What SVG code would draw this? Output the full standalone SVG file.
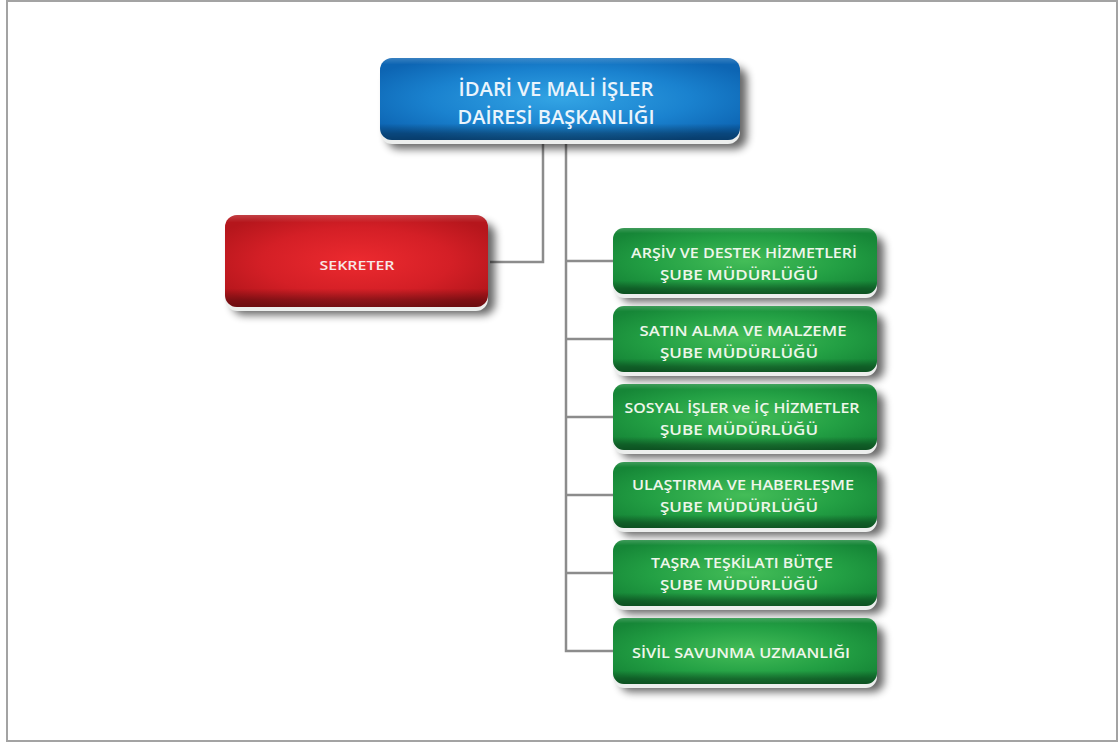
<svg xmlns="http://www.w3.org/2000/svg" width="1120" height="744" viewBox="0 0 1120 744">
  <style>
    .lbl { font-family: "Open Sans", "Liberation Sans", sans-serif; font-weight: 600; text-anchor: middle; }
    .g-txt { font-size: 14px; fill: #eef6ea; }
    .b-txt { font-size: 20px; fill: #eaf4fc; }
    .r-txt { font-size: 13px; fill: #f8e6e6; }
    .conn { fill: none; stroke: #8c8c8c; stroke-width: 2.5; }
    .rim { fill: #eceeed; }
    .shadow { fill: #000; opacity: 0.6; filter: url(#soft); }
    .band { fill: url(#bandGrad); }
  </style>
  <defs>
    <filter id="soft" x="-20%" y="-30%" width="140%" height="160%">
      <feGaussianBlur stdDeviation="4.5"/>
    </filter>
    <radialGradient id="greenBody" cx="0.5" cy="0.5" r="0.6">
      <stop offset="0" stop-color="#44bd58"/>
      <stop offset="0.6" stop-color="#23a044"/>
      <stop offset="1" stop-color="#168637"/>
    </radialGradient>
    <radialGradient id="blueBody" cx="0.5" cy="0.5" r="0.6">
      <stop offset="0" stop-color="#33a4e4"/>
      <stop offset="0.6" stop-color="#1a82cf"/>
      <stop offset="1" stop-color="#0d65b3"/>
    </radialGradient>
    <radialGradient id="redBody" cx="0.5" cy="0.5" r="0.6">
      <stop offset="0" stop-color="#ec2a2f"/>
      <stop offset="0.6" stop-color="#d41f26"/>
      <stop offset="1" stop-color="#b5161c"/>
    </radialGradient>
    <!-- top highlight and dark lower band shared by all boxes -->
    <linearGradient id="bandGrad" x1="0" y1="0" x2="0" y2="1">
      <stop offset="0" stop-color="#ffffff" stop-opacity="0.18"/>
      <stop offset="0.08" stop-color="#ffffff" stop-opacity="0"/>
      <stop offset="0.8" stop-color="#000000" stop-opacity="0"/>
      <stop offset="0.92" stop-color="#000000" stop-opacity="0.3"/>
      <stop offset="1" stop-color="#000000" stop-opacity="0.4"/>
    </linearGradient>
  </defs>

  <!-- page frame -->
  <rect x="7" y="1" width="1110" height="740" fill="#ffffff" stroke="#a3a3a3" stroke-width="2"/>

  <!-- connectors -->
  <g id="connectors">
    <path class="conn" d="M543 143 V262 H490"/>
    <path class="conn" d="M566 143 V651 H613"/>
    <path class="conn" d="M566 261 H613"/>
    <path class="conn" d="M566 339 H613"/>
    <path class="conn" d="M566 417 H613"/>
    <path class="conn" d="M566 495 H613"/>
    <path class="conn" d="M566 573 H613"/>
  </g>

  <!-- head office -->
  <g id="node-daire">
    <rect class="shadow" x="387" y="67" width="360" height="82" rx="12"/>
    <rect class="rim" x="380" y="62" width="360" height="82" rx="12"/>
    <rect x="380" y="58" width="360" height="82" rx="12" fill="url(#blueBody)"/>
    <rect class="band" x="380" y="58" width="360" height="82" rx="12"/>
    <text class="lbl b-txt" x="556" y="96" textLength="195" lengthAdjust="spacingAndGlyphs">İDARİ VE MALİ İŞLER</text>
    <text class="lbl b-txt" x="556" y="124" textLength="197" lengthAdjust="spacingAndGlyphs">DAİRESİ BAŞKANLIĞI</text>
  </g>

  <!-- secretary -->
  <g id="node-sekreter">
    <rect class="shadow" x="232" y="223" width="263" height="92" rx="12"/>
    <rect class="rim" x="225" y="219" width="263" height="92" rx="12"/>
    <rect x="225" y="215" width="263" height="92" rx="12" fill="url(#redBody)"/>
    <rect class="band" x="225" y="215" width="263" height="92" rx="12"/>
    <text class="lbl r-txt" x="357" y="270" textLength="75" lengthAdjust="spacingAndGlyphs">SEKRETER</text>
  </g>

  <!-- branch offices -->
  <g id="node-arsiv">
    <rect class="shadow" x="620" y="236" width="264" height="66" rx="11"/>
    <rect class="rim" x="613" y="232" width="264" height="66" rx="11"/>
    <rect x="613" y="228" width="264" height="66" rx="11" fill="url(#greenBody)"/>
    <rect class="band" x="613" y="228" width="264" height="66" rx="11"/>
    <text class="lbl g-txt" x="744" y="258" textLength="226" lengthAdjust="spacingAndGlyphs">ARŞİV VE DESTEK HİZMETLERİ</text>
    <text class="lbl g-txt" x="739" y="280" textLength="158" lengthAdjust="spacingAndGlyphs">ŞUBE MÜDÜRLÜĞÜ</text>
  </g>

  <g id="node-satin-alma">
    <rect class="shadow" x="620" y="314" width="264" height="66" rx="11"/>
    <rect class="rim" x="613" y="310" width="264" height="66" rx="11"/>
    <rect x="613" y="306" width="264" height="66" rx="11" fill="url(#greenBody)"/>
    <rect class="band" x="613" y="306" width="264" height="66" rx="11"/>
    <text class="lbl g-txt" x="743" y="336" textLength="207" lengthAdjust="spacingAndGlyphs">SATIN ALMA VE MALZEME</text>
    <text class="lbl g-txt" x="739" y="358" textLength="158" lengthAdjust="spacingAndGlyphs">ŞUBE MÜDÜRLÜĞÜ</text>
  </g>

  <g id="node-sosyal">
    <rect class="shadow" x="620" y="392" width="264" height="66" rx="11"/>
    <rect class="rim" x="613" y="388" width="264" height="66" rx="11"/>
    <rect x="613" y="384" width="264" height="66" rx="11" fill="url(#greenBody)"/>
    <rect class="band" x="613" y="384" width="264" height="66" rx="11"/>
    <text class="lbl g-txt" x="742" y="413" textLength="235" lengthAdjust="spacingAndGlyphs">SOSYAL İŞLER ve İÇ HİZMETLER</text>
    <text class="lbl g-txt" x="739" y="435" textLength="158" lengthAdjust="spacingAndGlyphs">ŞUBE MÜDÜRLÜĞÜ</text>
  </g>

  <g id="node-ulastirma">
    <rect class="shadow" x="620" y="470" width="264" height="66" rx="11"/>
    <rect class="rim" x="613" y="466" width="264" height="66" rx="11"/>
    <rect x="613" y="462" width="264" height="66" rx="11" fill="url(#greenBody)"/>
    <rect class="band" x="613" y="462" width="264" height="66" rx="11"/>
    <text class="lbl g-txt" x="743" y="490" textLength="222" lengthAdjust="spacingAndGlyphs">ULAŞTIRMA VE HABERLEŞME</text>
    <text class="lbl g-txt" x="739" y="512" textLength="158" lengthAdjust="spacingAndGlyphs">ŞUBE MÜDÜRLÜĞÜ</text>
  </g>

  <g id="node-tasra">
    <rect class="shadow" x="620" y="548" width="264" height="66" rx="11"/>
    <rect class="rim" x="613" y="544" width="264" height="66" rx="11"/>
    <rect x="613" y="540" width="264" height="66" rx="11" fill="url(#greenBody)"/>
    <rect class="band" x="613" y="540" width="264" height="66" rx="11"/>
    <text class="lbl g-txt" x="742" y="568" textLength="182" lengthAdjust="spacingAndGlyphs">TAŞRA TEŞKİLATI BÜTÇE</text>
    <text class="lbl g-txt" x="739" y="590" textLength="158" lengthAdjust="spacingAndGlyphs">ŞUBE MÜDÜRLÜĞÜ</text>
  </g>

  <g id="node-sivil">
    <rect class="shadow" x="620" y="626" width="264" height="66" rx="11"/>
    <rect class="rim" x="613" y="622" width="264" height="66" rx="11"/>
    <rect x="613" y="618" width="264" height="66" rx="11" fill="url(#greenBody)"/>
    <rect class="band" x="613" y="618" width="264" height="66" rx="11"/>
    <text class="lbl g-txt" x="741" y="658" textLength="218" lengthAdjust="spacingAndGlyphs">SİVİL SAVUNMA UZMANLIĞI</text>
  </g>
</svg>
